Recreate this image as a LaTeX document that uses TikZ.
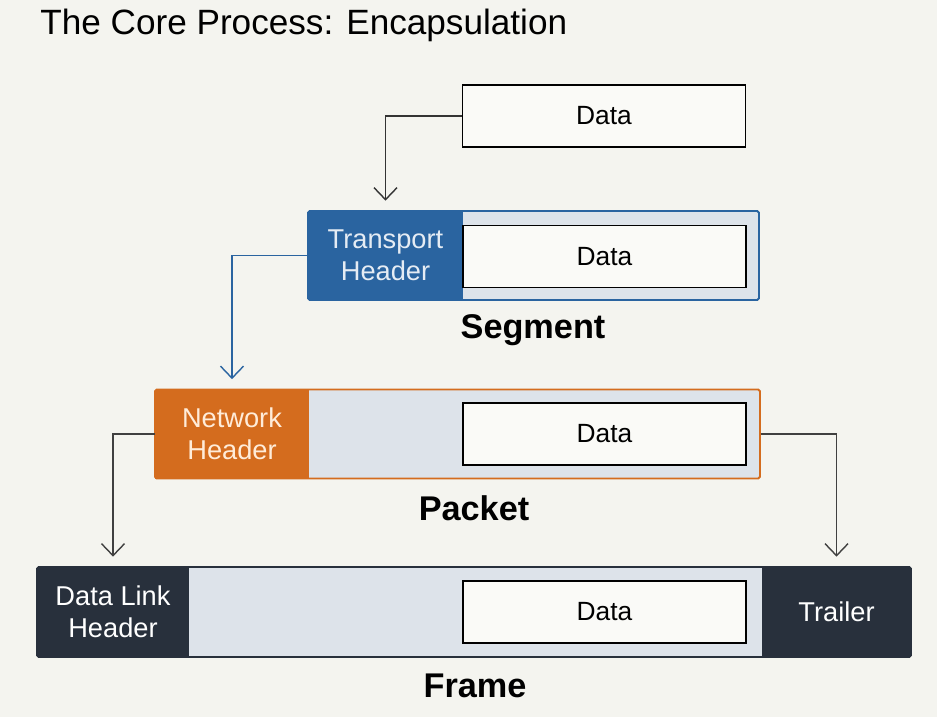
\documentclass[tikz,border=0pt]{standalone}
\usepackage{fontspec}
\setmainfont{Liberation Sans}
\usetikzlibrary{positioning, arrows.meta}

\definecolor{bgpaper}{HTML}{F4F4EF}
\definecolor{segblue}{HTML}{2A64A0}
\definecolor{pktorange}{HTML}{D46C1E}
\definecolor{frmdark}{HTML}{28303C}
\definecolor{fillgray}{HTML}{DDE3EA}
\definecolor{datawhite}{HTML}{FAFAF7}

\begin{document}
\begin{tikzpicture}[
        databox/.style={draw=black, fill=datawhite, line width=1.1pt,
            minimum width=5.66cm, minimum height=1.24cm, inner sep=0pt,
            font=\fontsize{15}{17}\selectfont},
        outerbox/.style={draw=#1, fill=fillgray, line width=1.1pt,
            minimum height=1.78cm, inner sep=0pt, rounded corners=1pt},
        hdrbox/.style={fill=#1, minimum height=1.78cm, inner sep=0pt,
            align=center, font=\fontsize{15.5}{18}\selectfont},
        pdulabel/.style={font=\bfseries\fontsize{19.5}{22}\selectfont},
        flow/.style={line width=0.8pt, -{Straight Barb[length=2.4mm, width=4.6mm]},
            shorten >=0.2cm}
    ]
        \fill[bgpaper] (0,0) rectangle (18.74,-14.34);
        \useasboundingbox (0,0) rectangle (18.74,-14.34);

        \node[anchor=west, inner sep=0pt, font=\fontsize{20}{23}\selectfont] (title) at (0.8,-0.5)
            {The Core Process: Encapsulation};

        % application data
        \node[databox] (appData) at (12.08,-2.32) {Data};

        % segment
        \node[outerbox=segblue, minimum width=9.02cm] (seg) at (10.67,-5.11) {};
        \node[hdrbox=segblue, text=white!88!segblue, minimum width=3.1cm] (segHdr) at (7.71,-5.11)
            {Transport\\Header};
        \node[databox] (segData) at (12.09,-5.13) {Data};
        \node[pdulabel] (segLbl) at (10.66,-6.6) {Segment};

        % packet
        \node[outerbox=pktorange, minimum width=12.1cm] (pkt) at (9.15,-8.68) {};
        \node[hdrbox=pktorange, text=white!85!orange, minimum width=3.08cm] (pktHdr) at (4.64,-8.68)
            {Network\\Header};
        \node[databox] (pktData) at (12.09,-8.68) {Data};
        \node[pdulabel] (pktLbl) at (9.48,-10.16) {Packet};

        % frame
        \node[outerbox=frmdark, minimum width=17.48cm, minimum height=1.8cm] (frm) at (9.48,-12.24) {};
        \node[hdrbox=frmdark, text=white, minimum width=3.04cm, minimum height=1.8cm] (frmHdr) at (2.26,-12.24)
            {Data Link\\Header};
        \node[hdrbox=frmdark, text=white, minimum width=2.98cm, minimum height=1.8cm] (frmTrl) at (16.73,-12.24)
            {Trailer};
        \node[databox] (frmData) at (12.09,-12.24) {Data};
        \node[pdulabel] (frmLbl) at (9.5,-13.72) {Frame};

        \draw[flow, black!80] (appData.west) -| (segHdr.north);
        \draw[flow, segblue] (segHdr.west) -| (pktHdr.north);
        \draw[flow, black!75] (pktHdr.west) -| (frmHdr.north);
        \draw[flow, black!75] (pkt.east) -| (frmTrl.north);

    \end{tikzpicture}
\end{document}
